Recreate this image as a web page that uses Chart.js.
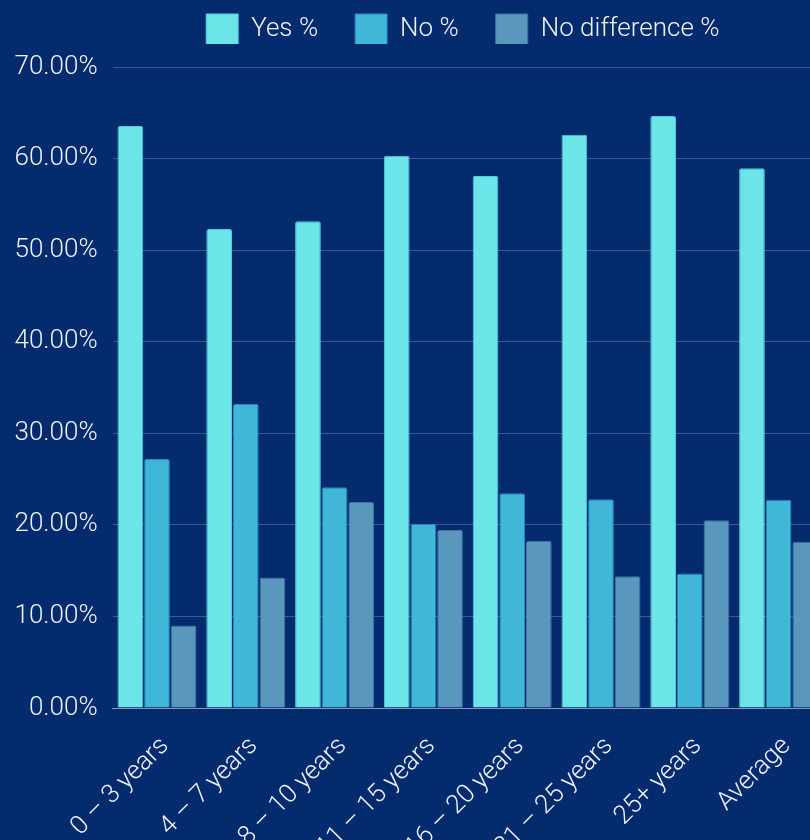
<!DOCTYPE html>
<html>
<head>
<meta charset="utf-8">
<script src="https://cdn.jsdelivr.net/npm/chart.js@4/dist/chart.umd.min.js"></script>
<style>
  html, body { margin:0; padding:0; background:#052b6f; overflow:hidden; }
  #wrap { position:absolute; left:0; top:0; width:823px; height:840px; }
</style>
</head>
<body>
<div id="wrap"><canvas id="chart"></canvas></div>
<script>
// data
const categories = ['0 – 3 years', '4 – 7 years', '8 – 10 years', '11 – 15 years', '16 – 20 years', '21 – 25 years', '25+ years', 'Average'];
const yesPct  = [63.55, 52.3, 53.15, 60.3, 58.1, 62.6, 64.65, 58.95];
const noPct   = [27.2, 33.2, 24.1, 20.1, 23.45, 22.8, 14.7, 22.75];
const noDiffPct = [9.0, 14.25, 22.5, 19.45, 18.25, 14.4, 20.5, 18.15];
const yTicks = [0, 10, 20, 30, 40, 50, 60, 70];

const TXT = '#eef2f8';
const FONT = { family: 'Roboto', size: 26, weight: '300' };

// legend: keep the chart top at 67px and pull the legend row up/left
const legendFix = {
  id: 'legendFix',
  beforeInit(chart) {
    const fit = chart.legend.fit;
    chart.legend.fit = function () {
      fit.bind(chart.legend)();
      this.height = 67;
    };
  },
  afterLayout(chart) {
    const lg = chart.legend;
    lg.top -= 23; lg.bottom -= 23;
    lg.left -= 5; lg.right -= 5;
  }
};

new Chart(document.getElementById('chart'), {
  type: 'bar',
  data: {
    labels: categories,
    datasets: [
      { label: 'Yes %', data: yesPct, backgroundColor: '#6ce5e8', borderColor: '#55c6df' },
      { label: 'No %', data: noPct, backgroundColor: '#40b7d7', borderColor: '#2a86c0' },
      { label: 'No difference %', data: noDiffPct, backgroundColor: '#5a97bd', borderColor: '#3f74a8' }
    ]
  },
  options: {
    responsive: true,
    maintainAspectRatio: false,
    animation: false,
    layout: { padding: 0 },
    datasets: {
      bar: { categoryPercentage: 0.9, barPercentage: 0.965, borderWidth: 1, borderRadius: 2 }
    },
    plugins: {
      legend: {
        position: 'top',
        fullSize: false,
        labels: { color: TXT, font: FONT, boxWidth: 32, boxHeight: 31, padding: 37 }
      },
      tooltip: { enabled: false }
    },
    scales: {
      x: {
        grid: { display: false },
        border: { display: true, color: '#8d97b3', width: 1 },
        ticks: { color: TXT, font: FONT, minRotation: 45, maxRotation: 45, autoSkip: false, padding: 15, labelOffset: 8 },
        afterFit(s) { s.height = 132; }
      },
      y: {
        min: 0, max: 70,
        afterBuildTicks(s) { s.ticks = yTicks.map(v => ({ value: v })); },
        grid: { color: 'rgba(255,255,255,0.22)', lineWidth: 1, drawTicks: false },
        border: { display: false },
        ticks: { color: TXT, font: FONT, padding: 15, callback: v => v.toFixed(2) + '%' },
        afterFit(s) { s.width = 112.6; }
      }
    }
  },
  plugins: [legendFix]
});
</script>
</body>
</html>
